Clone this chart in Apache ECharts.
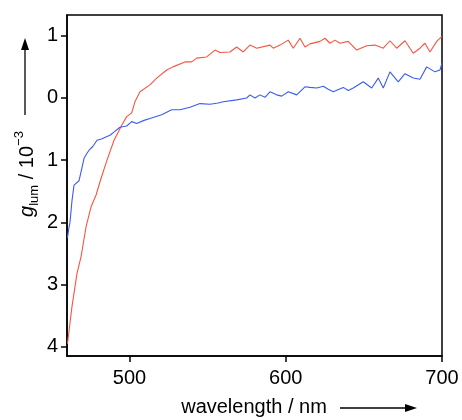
<!DOCTYPE html>
<html>
<head>
<meta charset="utf-8">
<script src="https://cdn.jsdelivr.net/npm/echarts@6/dist/echarts.min.js"></script>
<style>html,body{margin:0;padding:0;background:#fff;}#c{width:462px;height:420px;}</style>
</head>
<body>
<div id="c"></div>
<script>
const xTicks = [500, 600, 700];
const yTicks = [-4, -3, -2, -1, 0, 1];
const redSeries = [[460.3,-3.95],[460.6,-3.89],[463.2,-3.35],[466.4,-2.82],[469.0,-2.55],[472.2,-2.07],[475.4,-1.75],[478.6,-1.56],[481.8,-1.29],[485.6,-1.00],[490.1,-0.68],[495.2,-0.43],[498.2,-0.30],[501.4,-0.24],[503.5,-0.06],[506.7,0.10],[513.1,0.21],[517.4,0.32],[523.8,0.45],[527.8,0.50],[535.5,0.58],[539.8,0.58],[543.0,0.64],[549.4,0.66],[554.7,0.77],[557.9,0.73],[564.3,0.74],[568.6,0.82],[572.8,0.74],[577.1,0.85],[581.4,0.80],[589.9,0.85],[592.0,0.80],[596.3,0.85],[601.6,0.93],[604.8,0.80],[609.1,0.96],[612.3,0.82],[615.5,0.87],[621.9,0.91],[625.1,0.96],[628.3,0.88],[631.5,0.93],[634.7,0.88],[640.0,0.91],[645.4,0.77],[651.8,0.84],[657.1,0.85],[662.4,0.80],[666.7,0.92],[671.0,0.80],[676.3,0.92],[681.6,0.72],[685.9,0.80],[689.1,0.88],[692.3,0.74],[696.6,0.91],[700,0.99]];
const blueSeries = [[460.3,-2.25],[461.0,-2.12],[461.9,-2.0],[463.2,-1.65],[464.5,-1.40],[465.5,-1.37],[467.7,-1.33],[469.3,-1.15],[470.9,-0.97],[472.5,-0.90],[474.1,-0.84],[476.5,-0.78],[479.2,-0.68],[482.0,-0.66],[485.6,-0.62],[487.5,-0.60],[490.0,-0.55],[493.9,-0.47],[498.2,-0.45],[501.4,-0.38],[504.6,-0.41],[509.3,-0.36],[513.1,-0.33],[520.6,-0.27],[527.0,-0.19],[532.3,-0.19],[538.7,-0.15],[545.1,-0.09],[551.5,-0.10],[556.8,-0.08],[560.0,-0.06],[568.6,-0.03],[575.0,0.00],[577.1,0.05],[580.3,0.00],[583.5,0.05],[586.7,0.01],[589.9,0.10],[594.2,0.05],[597.4,0.03],[601.6,0.10],[607.0,0.05],[612.3,0.18],[615.5,0.17],[619.8,0.16],[624.0,0.19],[627.2,0.14],[630.4,0.10],[636.8,0.17],[640.0,0.12],[643.2,0.16],[649.6,0.26],[655.0,0.16],[659.2,0.32],[662.4,0.16],[666.7,0.42],[672.0,0.26],[676.3,0.39],[681.6,0.32],[685.9,0.30],[690.2,0.50],[695.5,0.42],[698.7,0.45],[700,0.56]];

const FONT = '"Liberation Sans", Arial, sans-serif';
const chart = echarts.init(document.getElementById('c'), null, {renderer: 'canvas'});
chart.setOption({
  animation: false,
  backgroundColor: '#fff',
  grid: {left: 67, right: 20, top: 15, bottom: 64, show: true, borderColor: '#000', borderWidth: 1.5, backgroundColor: 'transparent'},
  xAxis: {
    type: 'value', min: 460, max: 700,
    axisLine: {show: true, onZero: false, lineStyle: {color: '#000', width: 1.5}},
    axisTick: {show: true, length: 6, inside: false, lineStyle: {color: '#000', width: 1.5}, customValues: xTicks},
    axisLabel: {show: true, margin: 12, color: '#000', fontSize: 20, fontFamily: FONT, customValues: xTicks},
    splitLine: {show: false}
  },
  yAxis: {
    type: 'value', min: -4.148, max: 1.334,
    axisLine: {show: true, onZero: false, lineStyle: {color: '#000', width: 1.5}},
    axisTick: {show: true, length: 6, inside: false, lineStyle: {color: '#000', width: 1.5}, customValues: yTicks},
    axisLabel: {show: true, margin: 9, color: '#000', fontSize: 20, fontFamily: FONT, customValues: yTicks,
      formatter: v => String(Math.abs(Math.round(v)))},
    splitLine: {show: false}
  },
  series: [
    {type: 'line', data: redSeries, showSymbol: false, symbol: 'none', lineStyle: {color: '#f7553f', width: 1.1}, z: 2},
    {type: 'line', data: blueSeries, showSymbol: false, symbol: 'none', lineStyle: {color: '#3b5cf2', width: 1.1}, z: 3}
  ],
  graphic: [
    {type: 'text', x: 254, y: 407,
      style: {text: 'wavelength / nm', font: '20px ' + FONT, fill: '#000', align: 'center', verticalAlign: 'middle'}},
    {type: 'line', shape: {x1: 340, y1: 408, x2: 407, y2: 408}, style: {stroke: '#000', lineWidth: 1.3}},
    {type: 'polygon', shape: {points: [[417, 408], [405, 404], [405, 412]]}, style: {fill: '#000'}},
    {type: 'text', x: 27, y: 174, rotation: Math.PI / 2,
      style: {
        text: '{i|g}{sub|lum}{m| / 10}{sup|−3}',
        align: 'center', verticalAlign: 'middle', fill: '#000',
        rich: {
          i: {fontSize: 20, fontStyle: 'italic', fontFamily: FONT, lineHeight: 28, verticalAlign: 'middle'},
          m: {fontSize: 20, fontFamily: FONT, lineHeight: 28, verticalAlign: 'middle'},
          sub: {fontSize: 13, fontFamily: FONT, lineHeight: 13, verticalAlign: 'bottom'},
          sup: {fontSize: 13, fontFamily: FONT, lineHeight: 13, verticalAlign: 'top'}
        }
      }},
    {type: 'line', shape: {x1: 25, y1: 115, x2: 25, y2: 48}, style: {stroke: '#000', lineWidth: 1.3}},
    {type: 'polygon', shape: {points: [[25, 38], [21, 50], [29, 50]]}, style: {fill: '#000'}}
  ]
});
</script>
</body>
</html>
